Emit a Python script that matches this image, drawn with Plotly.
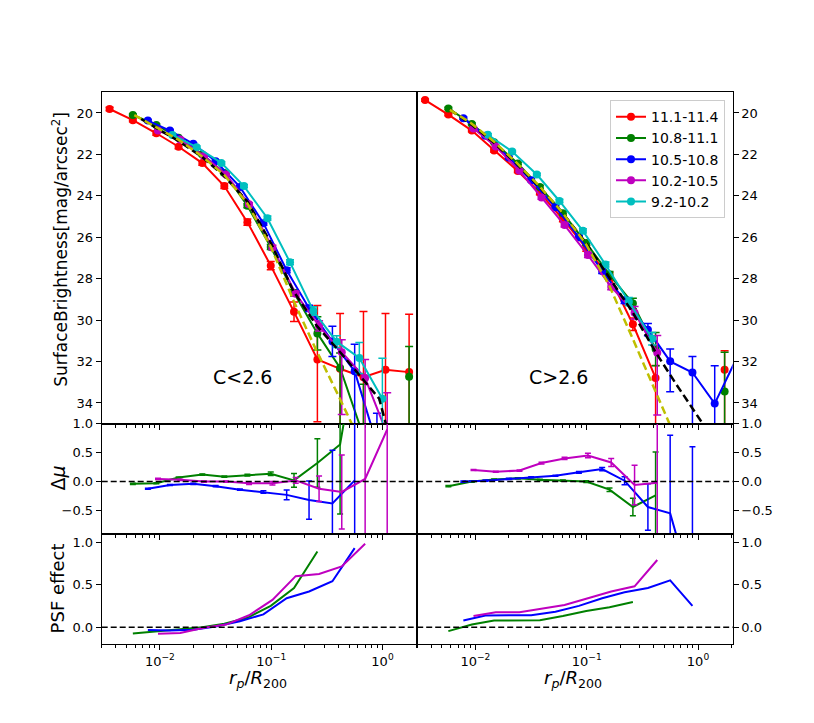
import math

import plotly.graph_objects as go
from plotly.subplots import make_subplots

# ---- data -------------------------------------------------------------
mass_bins = ["11.1-11.4", "10.8-11.1", "10.5-10.8", "10.2-10.5", "9.2-10.2"]

# radial bins (r_p / R200) of every mass sample
r_red = [0.003532, 0.005715, 0.009290, 0.01472, 0.02404, 0.03793, 0.06109,
         0.09908, 0.1603, 0.2600, 0.4159, 0.6745, 1.064, 1.734]
r_green = [0.005715, 0.009290, 0.01472, 0.02404, 0.03793, 0.06109, 0.09908,
           0.1603, 0.2600, 0.4159, 0.6745, 1.064, 1.734]
r_blue = [0.007798, 0.01230, 0.01995, 0.03170, 0.05236, 0.08511, 0.1377,
          0.2188, 0.3548, 0.5623, 0.8913, 1.413, 2.239]
r_magenta = [0.009616, 0.01524, 0.02489, 0.03926, 0.06324, 0.1026, 0.1660,
             0.2692, 0.4305, 0.6982, 1.102]
r_cyan = [0.01294, 0.02138, 0.03565, 0.05689, 0.09247, 0.1476, 0.2393,
          0.3873, 0.6194, 0.9977]

# surface brightness, C<2.6 (left column)
mu_red_lo = [19.81, 20.35, 20.98, 21.63, 22.42, 23.53, 25.27, 27.37, 29.6, 31.9,
             32.35, 32.76, 32.40, 32.51]
up_red_lo = [0.08, 0.08, 0.1, 0.1, 0.1, 0.12, 0.15, 0.2, 0.47, 2.6, 2.67, 3.17, 2.72, 2.79]
dn_red_lo = [0.08, 0.08, 0.1, 0.1, 0.1, 0.12, 0.15, 0.2, 0.47, 3.0, 3.0, 3.2, 3.0, 3.0]
mu_green_lo = [20.1, 20.58, 21.2, 22.0, 22.9, 24.48, 26.47, 28.68, 30.64, 32.31,
               35.6, None, 32.73]
up_green_lo = [0.05, 0.05, 0.05, 0.06, 0.08, 0.1, 0.12, 0.15, 0.8, 0.72, 2.5, None, 1.46]
dn_green_lo = [0.05, 0.05, 0.05, 0.06, 0.08, 0.1, 0.12, 0.15, 0.8, 3.0, 3.0, None, 3.0]
mu_blue_lo = [20.37, 20.85, 21.49, 22.33, 23.57, 25.32, 27.59, 29.43, 31.03, 32.47, 36.0]
up_blue_lo = [0.05, 0.05, 0.05, 0.06, 0.08, 0.1, 0.12, 0.15, 0.73, 1.3, 1.5]
dn_blue_lo = [0.05, 0.05, 0.05, 0.06, 0.08, 0.1, 0.12, 0.15, 0.73, 3.0, 3.0]
mu_magenta_lo = [20.85, 21.28, 22.08, 22.97, 24.41, 26.49, 28.73, 30.28, 31.55, 32.8, 35.5]
up_magenta_lo = [0.05, 0.05, 0.05, 0.06, 0.08, 0.1, 0.12, 0.25, 0.6, 0.9, 2.0]
dn_magenta_lo = [0.05, 0.05, 0.05, 0.06, 0.08, 0.1, 0.12, 0.25, 3.0, 3.0, 3.0]
mu_cyan_lo = [21.06, 21.65, 22.41, 23.53, 25.08, 27.21, 29.56, 31.04, 31.83, 33.79]
up_cyan_lo = [0.05, 0.05, 0.06, 0.08, 0.1, 0.12, 0.2, 0.28, 0.75, 1.95]
dn_cyan_lo = [0.05, 0.05, 0.06, 0.08, 0.1, 0.12, 0.2, 0.28, 0.75, 3.0]

# surface brightness, C>2.6 (right column)
mu_red_hi = [19.38, 20.08, 20.85, 21.81, 22.80, 23.85, 25.13, 26.52, 27.9, 30.2,
             32.79, None, None, 32.39]
up_red_hi = [0.05, 0.05, 0.06, 0.07, 0.08, 0.1, 0.12, 0.15, 0.2, 0.3, 0.6, None, None, 0.91]
dn_red_hi = [0.05, 0.05, 0.06, 0.07, 0.08, 0.1, 0.12, 0.15, 0.2, 0.3, 3.0, None, None, 3.0]
mu_green_hi = [19.78, 20.53, 21.41, 22.44, 23.57, 24.84, 26.28, 27.8, 29.2, 31.4,
               None, None, 33.45]
up_green_hi = [0.05, 0.05, 0.05, 0.06, 0.08, 0.1, 0.12, 0.15, 0.25, 0.8, None, None, 1.9]
dn_green_hi = [0.05, 0.05, 0.05, 0.06, 0.08, 0.1, 0.12, 0.15, 0.25, 0.8, None, None, 3.0]
mu_blue_hi = [20.25, 21.1, 22.15, 23.25, 24.55, 26.0, 27.63, 29.05, 30.46, 31.99,
              32.53, 34.03, 31.8]
up_blue_hi = [0.05, 0.05, 0.05, 0.06, 0.08, 0.1, 0.12, 0.15, 0.3, 0.6, 0.77, 1.83, 1.0]
dn_blue_hi = [0.05, 0.05, 0.05, 0.06, 0.08, 0.1, 0.12, 0.15, 0.3, 1.47, 3.0, 3.0, 3.0]
mu_magenta_hi = [20.75, 21.62, 22.79, 24.08, 25.41, 26.86, 28.39, 29.64, 31.58]
up_magenta_hi = [0.05, 0.05, 0.06, 0.08, 0.1, 0.12, 0.15, 0.3, 0.84]
dn_magenta_hi = [0.05, 0.05, 0.06, 0.08, 0.1, 0.12, 0.15, 0.3, 3.0]
mu_cyan_hi = [21.05, 21.86, 22.97, 24.25, 25.69, 27.32, 29.11, 30.9]
up_cyan_hi = [0.05, 0.05, 0.06, 0.08, 0.1, 0.12, 0.2, 0.3]

# model profiles (dashed)
r_black_lo = [0.006761, 0.00929, 0.01445, 0.02399, 0.03715, 0.06166, 0.1, 0.1585,
              0.2570, 0.4169, 0.6607, 0.9333, 1.072, 1.148]
mu_black_lo = [20.29, 20.74, 21.33, 22.13, 23.0, 24.3, 26.3, 28.6, 30.28, 31.55,
               32.83, 33.79, 35.0, 35.6]
r_yellow_lo = [0.005888, 0.009333, 0.01479, 0.02399, 0.03802, 0.06166, 0.1, 0.1585,
               0.2512, 0.3981, 0.5623]
mu_yellow_lo = [20.1, 20.7, 21.3, 22.1, 23.0, 24.4, 26.5, 29.05, 31.4, 33.6, 35.3]
r_black_hi = [0.005888, 0.008913, 0.01445, 0.02291, 0.03715, 0.06026, 0.09772,
              0.1585, 0.2570, 0.4217, 0.6383, 1.072, 1.202]
mu_black_hi = [19.85, 20.5, 21.4, 22.4, 23.55, 24.8, 26.25, 27.9, 29.6, 31.6, 33.1,
               34.9, 35.4]
r_yellow_hi = [0.005888, 0.008913, 0.01445, 0.02291, 0.03715, 0.06026, 0.09772,
               0.1585, 0.2570, 0.3981, 0.5559, 0.6310]
mu_yellow_hi = [19.85, 20.45, 21.35, 22.35, 23.5, 24.8, 26.3, 28.3, 30.85, 33.2,
                35.0, 35.7]

# delta mu, C<2.6
dmu_green_lo = [-0.04, -0.03, 0.07, 0.12, 0.085, 0.11, 0.135, 0.02, 0.32, 0.64, 3.0]
dmu_green_lo_err = [0.01, 0.01, 0.01, 0.01, 0.01, 0.015, 0.03, 0.12, 0.42, 1.2, 2.0]
dmu_blue_lo = [-0.125, -0.06, -0.04, -0.08, -0.14, -0.18, -0.23, -0.32, -0.38, 0.02]
dmu_blue_lo_err = [0.01, 0.01, 0.01, 0.01, 0.01, 0.02, 0.085, 0.33, 0.92, 1.5]
dmu_magenta_lo = [0.045, 0.03, 0.0, 0.0, -0.03, -0.03, 0.02, -0.125, -0.18, 0.045, 0.9]
dmu_magenta_lo_err = [0.01, 0.01, 0.01, 0.01, 0.02, 0.03, 0.05, 0.22, 0.64, 1.6, 2.0]

# delta mu, C>2.6
dmu_green_hi = [-0.08, 0.0, 0.035, 0.055, 0.03, 0.015, 0.0, -0.14, -0.44, -0.24]
dmu_green_hi_err = [0.01, 0.01, 0.01, 0.01, 0.01, 0.01, 0.015, 0.03, 0.15, 0.75]
dmu_blue_hi = [0.0, 0.015, 0.045, 0.075, 0.1, 0.16, 0.215, 0.015, -0.44, -0.55, -1.9]
dmu_blue_hi_err = [0.01, 0.01, 0.01, 0.01, 0.01, 0.015, 0.03, 0.07, 0.4, 1.35, 2.5]
dmu_magenta_hi = [0.2, 0.17, 0.19, 0.32, 0.40, 0.45, 0.33, -0.06, -0.02]
dmu_magenta_hi_err = [0.01, 0.01, 0.01, 0.015, 0.02, 0.04, 0.07, 0.34, 2.0]

# PSF effect
psf_green_lo = [-0.075, -0.05, -0.03, 0.0, 0.04, 0.11, 0.25, 0.46, 0.89]
psf_blue_lo = [-0.035, -0.04, -0.03, 0.008, 0.07, 0.15, 0.34, 0.42, 0.54, 0.93]
psf_magenta_lo = [-0.078, -0.07, -0.008, 0.03, 0.14, 0.32, 0.6, 0.625, 0.715, 0.98]
psf_green_hi = [-0.047, 0.03, 0.078, 0.082, 0.082, 0.13, 0.19, 0.235, 0.297]
psf_blue_hi = [0.078, 0.137, 0.14, 0.14, 0.18, 0.25, 0.34, 0.41, 0.46, 0.55, 0.25]
psf_magenta_hi = [0.13, 0.176, 0.176, 0.22, 0.26, 0.34, 0.42, 0.48, 0.79]

x_tick_vals = [0.01, 0.1, 1]
x_tick_text = ["10<sup>\u22122</sup>", "10<sup>\u22121</sup>", "10<sup>0</sup>"]
x_minor_vals = [0.003, 0.004, 0.005, 0.006, 0.007, 0.008, 0.009,
                0.02, 0.03, 0.04, 0.05, 0.06, 0.07, 0.08, 0.09,
                0.2, 0.3, 0.4, 0.5, 0.6, 0.7, 0.8, 0.9, 2]

RED, GREEN, BLUE = "#ff0000", "#008000", "#0000ff"
MAGENTA, CYAN, YELLOW = "#bf00bf", "#00bfbf", "#bfbf00"
FONT = "DejaVu Sans"
W, H = 814, 723
PAGE_OFFSET = 8  # the page body margin pushes the figure 8px right and down


def px_x(px):
    # screen pixel -> paper x
    return (px - PAGE_OFFSET) / W


def px_y(py):
    # screen pixel -> paper y
    return 1 - (py - PAGE_OFFSET) / H


def add_profile(fig, r, mu, up, down, color, name, col, legend):
    fig.add_trace(
        go.Scatter(
            x=r, y=mu, mode="lines+markers", name=name, showlegend=legend,
            line=dict(color=color, width=2),
            marker=dict(color=color, size=8),
            error_y=dict(type="data", symmetric=False, array=down, arrayminus=up,
                         color=color, thickness=1.5, width=4),
        ),
        row=1, col=col,
    )


def add_delta(fig, r, dmu, err, color, col):
    fig.add_trace(
        go.Scatter(
            x=r, y=dmu, mode="lines", showlegend=False,
            line=dict(color=color, width=2),
            error_y=dict(type="data", array=err, color=color, thickness=1.5, width=3),
        ),
        row=2, col=col,
    )


def add_psf(fig, r, psf, color, col):
    fig.add_trace(
        go.Scatter(x=r, y=psf, mode="lines", showlegend=False,
                   line=dict(color=color, width=2)),
        row=3, col=col,
    )


def add_model(fig, r, mu, color, col):
    fig.add_trace(
        go.Scatter(x=r, y=mu, mode="lines", showlegend=False,
                   line=dict(color=color, width=2.5, dash="8px,4px")),
        row=1, col=col,
    )


fig = make_subplots(rows=3, cols=2, row_heights=[0.6, 0.2, 0.2],
                    horizontal_spacing=0, vertical_spacing=0)

# top row: profiles
add_profile(fig, r_red, mu_red_lo, up_red_lo, dn_red_lo, RED, mass_bins[0], 1, True)
add_profile(fig, r_green, mu_green_lo, up_green_lo, dn_green_lo, GREEN, mass_bins[1], 1, True)
add_profile(fig, r_blue[:11], mu_blue_lo, up_blue_lo, dn_blue_lo, BLUE, mass_bins[2], 1, True)
add_profile(fig, r_magenta, mu_magenta_lo, up_magenta_lo, dn_magenta_lo, MAGENTA, mass_bins[3], 1, True)
add_profile(fig, r_cyan, mu_cyan_lo, up_cyan_lo, dn_cyan_lo, CYAN, mass_bins[4], 1, True)
add_model(fig, r_black_lo, mu_black_lo, "black", 1)
add_model(fig, r_yellow_lo, mu_yellow_lo, YELLOW, 1)

add_profile(fig, r_red, mu_red_hi, up_red_hi, dn_red_hi, RED, mass_bins[0], 2, False)
add_profile(fig, r_green, mu_green_hi, up_green_hi, dn_green_hi, GREEN, mass_bins[1], 2, False)
add_profile(fig, r_blue, mu_blue_hi, up_blue_hi, dn_blue_hi, BLUE, mass_bins[2], 2, False)
add_profile(fig, r_magenta[:9], mu_magenta_hi, up_magenta_hi, dn_magenta_hi,
            MAGENTA, mass_bins[3], 2, False)
add_profile(fig, r_cyan[:8], mu_cyan_hi, up_cyan_hi, up_cyan_hi, CYAN, mass_bins[4], 2, False)
add_model(fig, r_black_hi, mu_black_hi, "black", 2)
add_model(fig, r_yellow_hi, mu_yellow_hi, YELLOW, 2)

# middle row: delta mu
add_delta(fig, r_green[:11], dmu_green_lo, dmu_green_lo_err, GREEN, 1)
add_delta(fig, r_blue[:10], dmu_blue_lo, dmu_blue_lo_err, BLUE, 1)
add_delta(fig, r_magenta, dmu_magenta_lo, dmu_magenta_lo_err, MAGENTA, 1)
add_delta(fig, r_green[:10], dmu_green_hi, dmu_green_hi_err, GREEN, 2)
add_delta(fig, r_blue[:11], dmu_blue_hi, dmu_blue_hi_err, BLUE, 2)
add_delta(fig, r_magenta[:9], dmu_magenta_hi, dmu_magenta_hi_err, MAGENTA, 2)

# bottom row: PSF effect
add_psf(fig, r_green[:9], psf_green_lo, GREEN, 1)
add_psf(fig, r_blue[:10], psf_blue_lo, BLUE, 1)
add_psf(fig, r_magenta[:10], psf_magenta_lo, MAGENTA, 1)
add_psf(fig, r_green[:9], psf_green_hi, GREEN, 2)
add_psf(fig, r_blue[:11], psf_blue_hi, BLUE, 2)
add_psf(fig, r_magenta[:9], psf_magenta_hi, MAGENTA, 2)

for row in (2, 3):
    for col in (1, 2):
        fig.add_hline(y=0, line=dict(color="black", width=1.5, dash="6px,3px"),
                      row=row, col=col)

# axes: panel edges measured in screen pixels
x_domains = {1: [px_x(101.7), px_x(417.2)], 2: [px_x(417.2), px_x(732.7)]}
y_domains = {1: [px_y(420.7), px_y(86)], 2: [px_y(531.7), px_y(420.7)],
             3: [px_y(643.3), px_y(531.7)]}
y_ranges = {1: [35, 19], 2: [-0.9, 1.0], 3: [-0.2, 1.1]}
axis_style = dict(showline=True, linecolor="black", linewidth=1, mirror=True,
                  ticks="outside", ticklen=5, tickwidth=1, tickcolor="black",
                  showgrid=False, zeroline=False,
                  tickfont=dict(family=FONT, size=13, color="black"))

for row in (1, 2, 3):
    for col in (1, 2):
        fig.update_xaxes(
            type="log", domain=x_domains[col],
            range=[math.log10(0.003), math.log10(2.05)],
            tickmode="array", tickvals=x_tick_vals, ticktext=x_tick_text,
            showticklabels=(row == 3),
            minor=dict(tickmode="array", tickvals=x_minor_vals, ticks="outside",
                       ticklen=3, tickwidth=1, tickcolor="black", showgrid=False),
            row=row, col=col, **axis_style,
        )
        y_extra = dict(dtick=2, tick0=20) if row == 1 else dict(dtick=0.5, tick0=0, tickformat=".1f")
        fig.update_yaxes(
            domain=y_domains[row], range=y_ranges[row],
            side="left" if col == 1 else "right",
            row=row, col=col, **axis_style, **y_extra,
        )

annotations = [
    dict(text="C&lt;2.6", px=242, py=374, size=19, angle=0),
    dict(text="C&gt;2.6", px=558, py=374, size=19, angle=0),
    dict(text="SurfaceBrightness[mag/arcsec<sup>2</sup>]", px=60, py=245, size=17, angle=-90),
    dict(text="\u0394<i>\u03bc</i>", px=58, py=476, size=19, angle=-90),
    dict(text="PSF effect", px=57, py=587, size=18, angle=-90),
    dict(text="<i>r<sub>p</sub></i>/<i>R</i><sub>200</sub>", px=258, py=678, size=18, angle=0),
    dict(text="<i>r<sub>p</sub></i>/<i>R</i><sub>200</sub>", px=573, py=678, size=18, angle=0),
]
for a in annotations:
    fig.add_annotation(
        text=a["text"], x=px_x(a["px"]), y=px_y(a["py"]),
        xref="paper", yref="paper", showarrow=False, textangle=a["angle"],
        xanchor="center", yanchor="middle",
        font=dict(family=FONT, color="black", size=a["size"]),
    )

fig.update_layout(
    width=W, height=H,
    margin=dict(l=0, r=0, t=0, b=0),
    paper_bgcolor="white", plot_bgcolor="white",
    font=dict(family=FONT, color="black"),
    legend=dict(x=px_x(725), y=px_y(94), xanchor="right", yanchor="top",
                bgcolor="white", bordercolor="#cccccc", borderwidth=1,
                font=dict(family=FONT, size=14)),
)

fig.write_html("out.html")
